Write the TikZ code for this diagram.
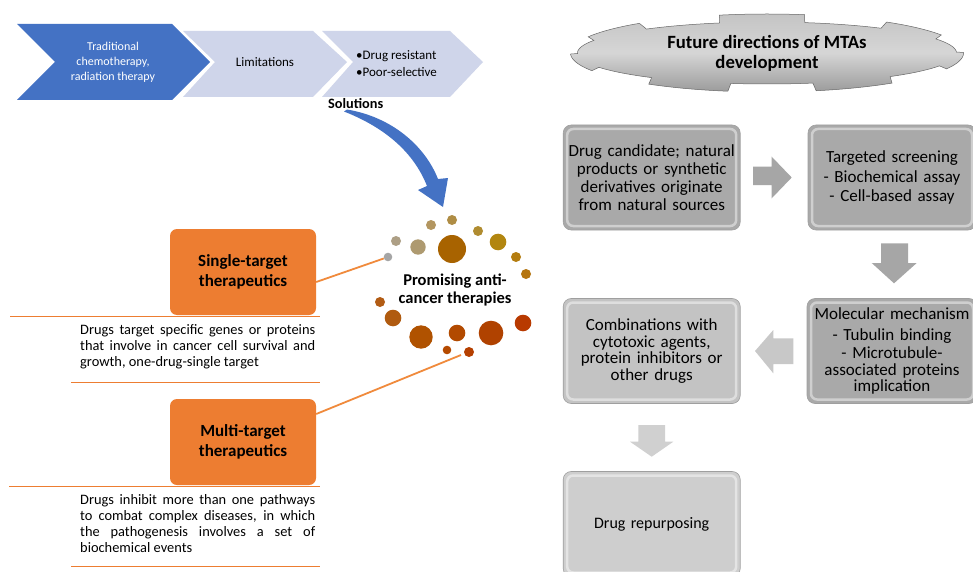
\documentclass[tikz,border=0pt]{standalone}
\usepackage{fontspec}
\setmainfont{Carlito}
\usetikzlibrary{calc,shapes.geometric}
\definecolor{chevblue}{HTML}{4472C4}
\definecolor{chevlight}{HTML}{CFD5EA}
\definecolor{orangeA}{HTML}{ED7D31}
\definecolor{orangeL}{HTML}{F08A3C}
\definecolor{gA}{HTML}{A9A9A9}
\definecolor{gB}{HTML}{C3C3C3}
\definecolor{gC}{HTML}{CECECE}
\definecolor{arA}{HTML}{A6A6A6}
\definecolor{arB}{HTML}{C8C8C8}
\definecolor{arC}{HTML}{D0D0D0}
\definecolor{ban1}{HTML}{C4C4C4}
\definecolor{ban2}{HTML}{9C9C9C}
\definecolor{c01}{HTML}{A5A5A5}
\definecolor{c02}{HTML}{AD9F85}
\definecolor{c03}{HTML}{AE9A70}
\definecolor{c04}{HTML}{B39660}
\definecolor{c05}{HTML}{AF8D45}
\definecolor{c06}{HTML}{A86300}
\definecolor{c07}{HTML}{B08C30}
\definecolor{c08}{HTML}{B28610}
\definecolor{c09}{HTML}{B47D10}
\definecolor{c10}{HTML}{B57510}
\definecolor{c11}{HTML}{B25C14}
\definecolor{c12}{HTML}{B05B10}
\definecolor{c13}{HTML}{B05200}
\definecolor{c14}{HTML}{B24A00}
\definecolor{c15}{HTML}{B04200}
\definecolor{c16}{HTML}{B83A00}
\definecolor{c17}{HTML}{B54A00}
\definecolor{c18}{HTML}{B54000}
\begin{document}
\begin{tikzpicture}[x=1pt,y=-1pt,
  gbox/.style={rounded corners=8pt, fill=#1, draw=gray!75, line width=0.6pt,
    minimum width=177pt, minimum height=105pt, inner sep=2pt, align=center,
    text width=171pt, font=\fontsize{17}{18.2}\selectfont,
    path picture={\draw[white, opacity=0.45, line width=2.5pt, rounded corners=6pt]
      ($(path picture bounding box.north west)+(4pt,-4pt)$) rectangle
      ($(path picture bounding box.south east)+(-4pt,4pt)$);}},
  obox/.style={rounded corners=7pt, fill=orangeA, minimum width=146pt,
    minimum height=86pt, align=center, font=\bfseries\fontsize{17}{19.5}\selectfont},
  desc/.style={text width=235pt, align=justify, inner sep=0pt,
    font=\fontsize{14.4}{16}\selectfont},
  dot/.style={circle, fill=#1, inner sep=0pt},
  hline/.style={orangeA, line width=0.9pt},
  oline/.style={orangeL, line width=1.8pt},
  chevtxt/.style={align=center, font=\fontsize{13}{15}\selectfont}
]
\useasboundingbox (0,0) rectangle (973,572);
\fill[white] (0,0) rectangle (973,572);

% chevrons
\fill[chevblue] (17,24) -- (172,24) -- (210,62) -- (172,100) -- (17,100) -- (55,62) -- cycle;
\fill[chevlight] (183,31) -- (313,31) -- (347,62) -- (313,97) -- (183,97) -- (215,62) -- cycle;
\fill[chevlight] (322,31) -- (450,31) -- (483,62) -- (450,97) -- (322,97) -- (353,62) -- cycle;
\node[chevtxt, text=white, font=\fontsize{12}{15}\selectfont] (trad) at (113,62) {Traditional\\chemotherapy,\\radiation therapy};
\node[chevtxt] (lim) at (265,62) {Limitations};
\node[anchor=west, align=left, inner sep=0pt, font=\fontsize{13}{17}\selectfont] (bul) at (356,64) {•Drug resistant\\•Poor-selective};
\node[anchor=west, inner sep=0pt, font=\bfseries\fontsize{14.3}{16}\selectfont] (sol) at (328,104) {Solutions};

% blue curved arrow
\fill[chevblue] (347,109.5) .. controls (392,117) and (425,146) .. (438,179)
  -- (448,178) -- (443,207) -- (418,190) -- (427,186)
  .. controls (414,153) and (386,128) .. (344,111.5) -- cycle;

% circles
\node[dot=c01, minimum size=8.6pt] (c1) at (388,257) {};
\node[dot=c02, minimum size=10pt] (c2) at (396,241) {};
\node[dot=c03, minimum size=15.4pt] (c3) at (418,247) {};
\node[dot=c04, minimum size=10pt] (c4) at (431,225) {};
\node[dot=c05, minimum size=10pt] (c5) at (452,220) {};
\node[dot=c06, minimum size=28pt] (c6) at (452,249) {};
\node[dot=c07, minimum size=10pt] (c7) at (478,231) {};
\node[dot=c08, minimum size=16.6pt] (c8) at (498,242) {};
\node[dot=c09, minimum size=10pt] (c9) at (516,257) {};
\node[dot=c10, minimum size=10pt] (c10) at (526,274) {};
\node[dot=c11, minimum size=10pt] (c11) at (380,302) {};
\node[dot=c12, minimum size=16.6pt] (c12) at (393,318) {};
\node[dot=c13, minimum size=23.4pt] (c13) at (421,337) {};
\node[dot=c14, minimum size=16.6pt] (c14) at (457,333) {};
\node[dot=c15, minimum size=24.6pt] (c15) at (491,333) {};
\node[dot=c16, minimum size=16.6pt] (c16) at (523,323) {};
\node[dot=c17, minimum size=8.6pt] (c17) at (447,350) {};
\node[dot=c18, minimum size=10pt] (c18) at (469,352) {};
\node[align=center, font=\bfseries\fontsize{16.5}{18}\selectfont] (prom) at (455,290) {Promising anti-\\cancer therapies};

% left column
\node[obox] (single) at (243,272) {Single-target\\therapeutics};
\node[obox] (multi) at (243,442) {Multi-target\\therapeutics};
\draw[hline] (10,316.7) -- (320,316.7);
\draw[hline] (71,382.3) -- (320,382.3);
\draw[hline] (9,486) -- (320,486);
\draw[hline] (71,566.7) -- (320,566.7);
\node[desc, anchor=north west] (d1) at (80,324) {Drugs target specific genes or proteins\linebreak that involve in cancer cell survival and\linebreak growth, one-drug-single target};
\node[desc, anchor=north west] (d2) at (80,494.5) {Drugs inhibit more than one pathways\linebreak to combat complex diseases, in which\linebreak the pathogenesis involves a set of\linebreak biochemical events};
\coordinate (mend) at (461,355);
\draw[oline] ([yshift=-10pt]single.east) -- (c1);
\draw[oline] ([yshift=28pt]multi.east) -- (mend);

% banner
\shade[top color=ban1, bottom color=ban2, middle color=ban1!70!white, draw=gray!80!black, line width=0.5pt]
  plot[domain=0:360, samples=721, variable=\t]
  ({767+(193+3.5*sign(sin(7*\t+10)))*cos(\t)}, {53+(35+4*sign(sin(7*\t+10)))*sin(\t)}) -- cycle;
\node[align=center, font=\bfseries\fontsize{18.7}{20}\selectfont] (title) at (767,53) {Future directions of MTAs\\development};

% gray boxes
\node[gbox=gA] (b1) at (651.7,177.5) {Drug candidate; natural\\products or synthetic\\derivatives originate\\from natural sources};
\node[gbox=gA, minimum width=168pt, text width=162pt] (b2) at (892,177.5) {Targeted screening\\[1pt]- Biochemical assay\\[1pt]- Cell-based assay\\[11pt]};
\node[gbox=gB, font=\fontsize{17}{16.8}\selectfont] (b3) at (651.7,351) {Combinations with\\cytotoxic agents,\\protein inhibitors or\\other drugs};
\node[gbox=gA, minimum width=168pt, text width=166pt, font=\fontsize{17}{16.5}\selectfont] (b4) at (892,351) {Molecular mechanism\\[4.5pt]- Tubulin binding\\[2pt]- Microtubule-\\associated proteins\\implication};
\node[gbox=gC, font=\fontsize{16}{18}\selectfont] (b5) at (651.7,524) {Drug repurposing};

% block arrows
\fill[arA] (753,166.7) -- (771.7,166.7) -- (771.7,156.7) -- (791.7,177.5) -- (771.7,198.3) -- (771.7,185) -- (753,185) -- cycle;
\fill[arA] (881,243.3) -- (908,243.3) -- (908,263) -- (916.7,263) -- (894,283.3) -- (871.7,263) -- (881,263) -- cycle;
\fill[arB] (793.3,338.3) -- (773.3,338.3) -- (773.3,330) -- (755,351) -- (773.3,373.3) -- (773.3,364) -- (793.3,364) -- cycle;
\fill[arC] (638.3,425) -- (665,425) -- (665,441.7) -- (673.3,441.7) -- (651.7,456.7) -- (630,441.7) -- (638.3,441.7) -- cycle;
\end{tikzpicture}
\end{document}
